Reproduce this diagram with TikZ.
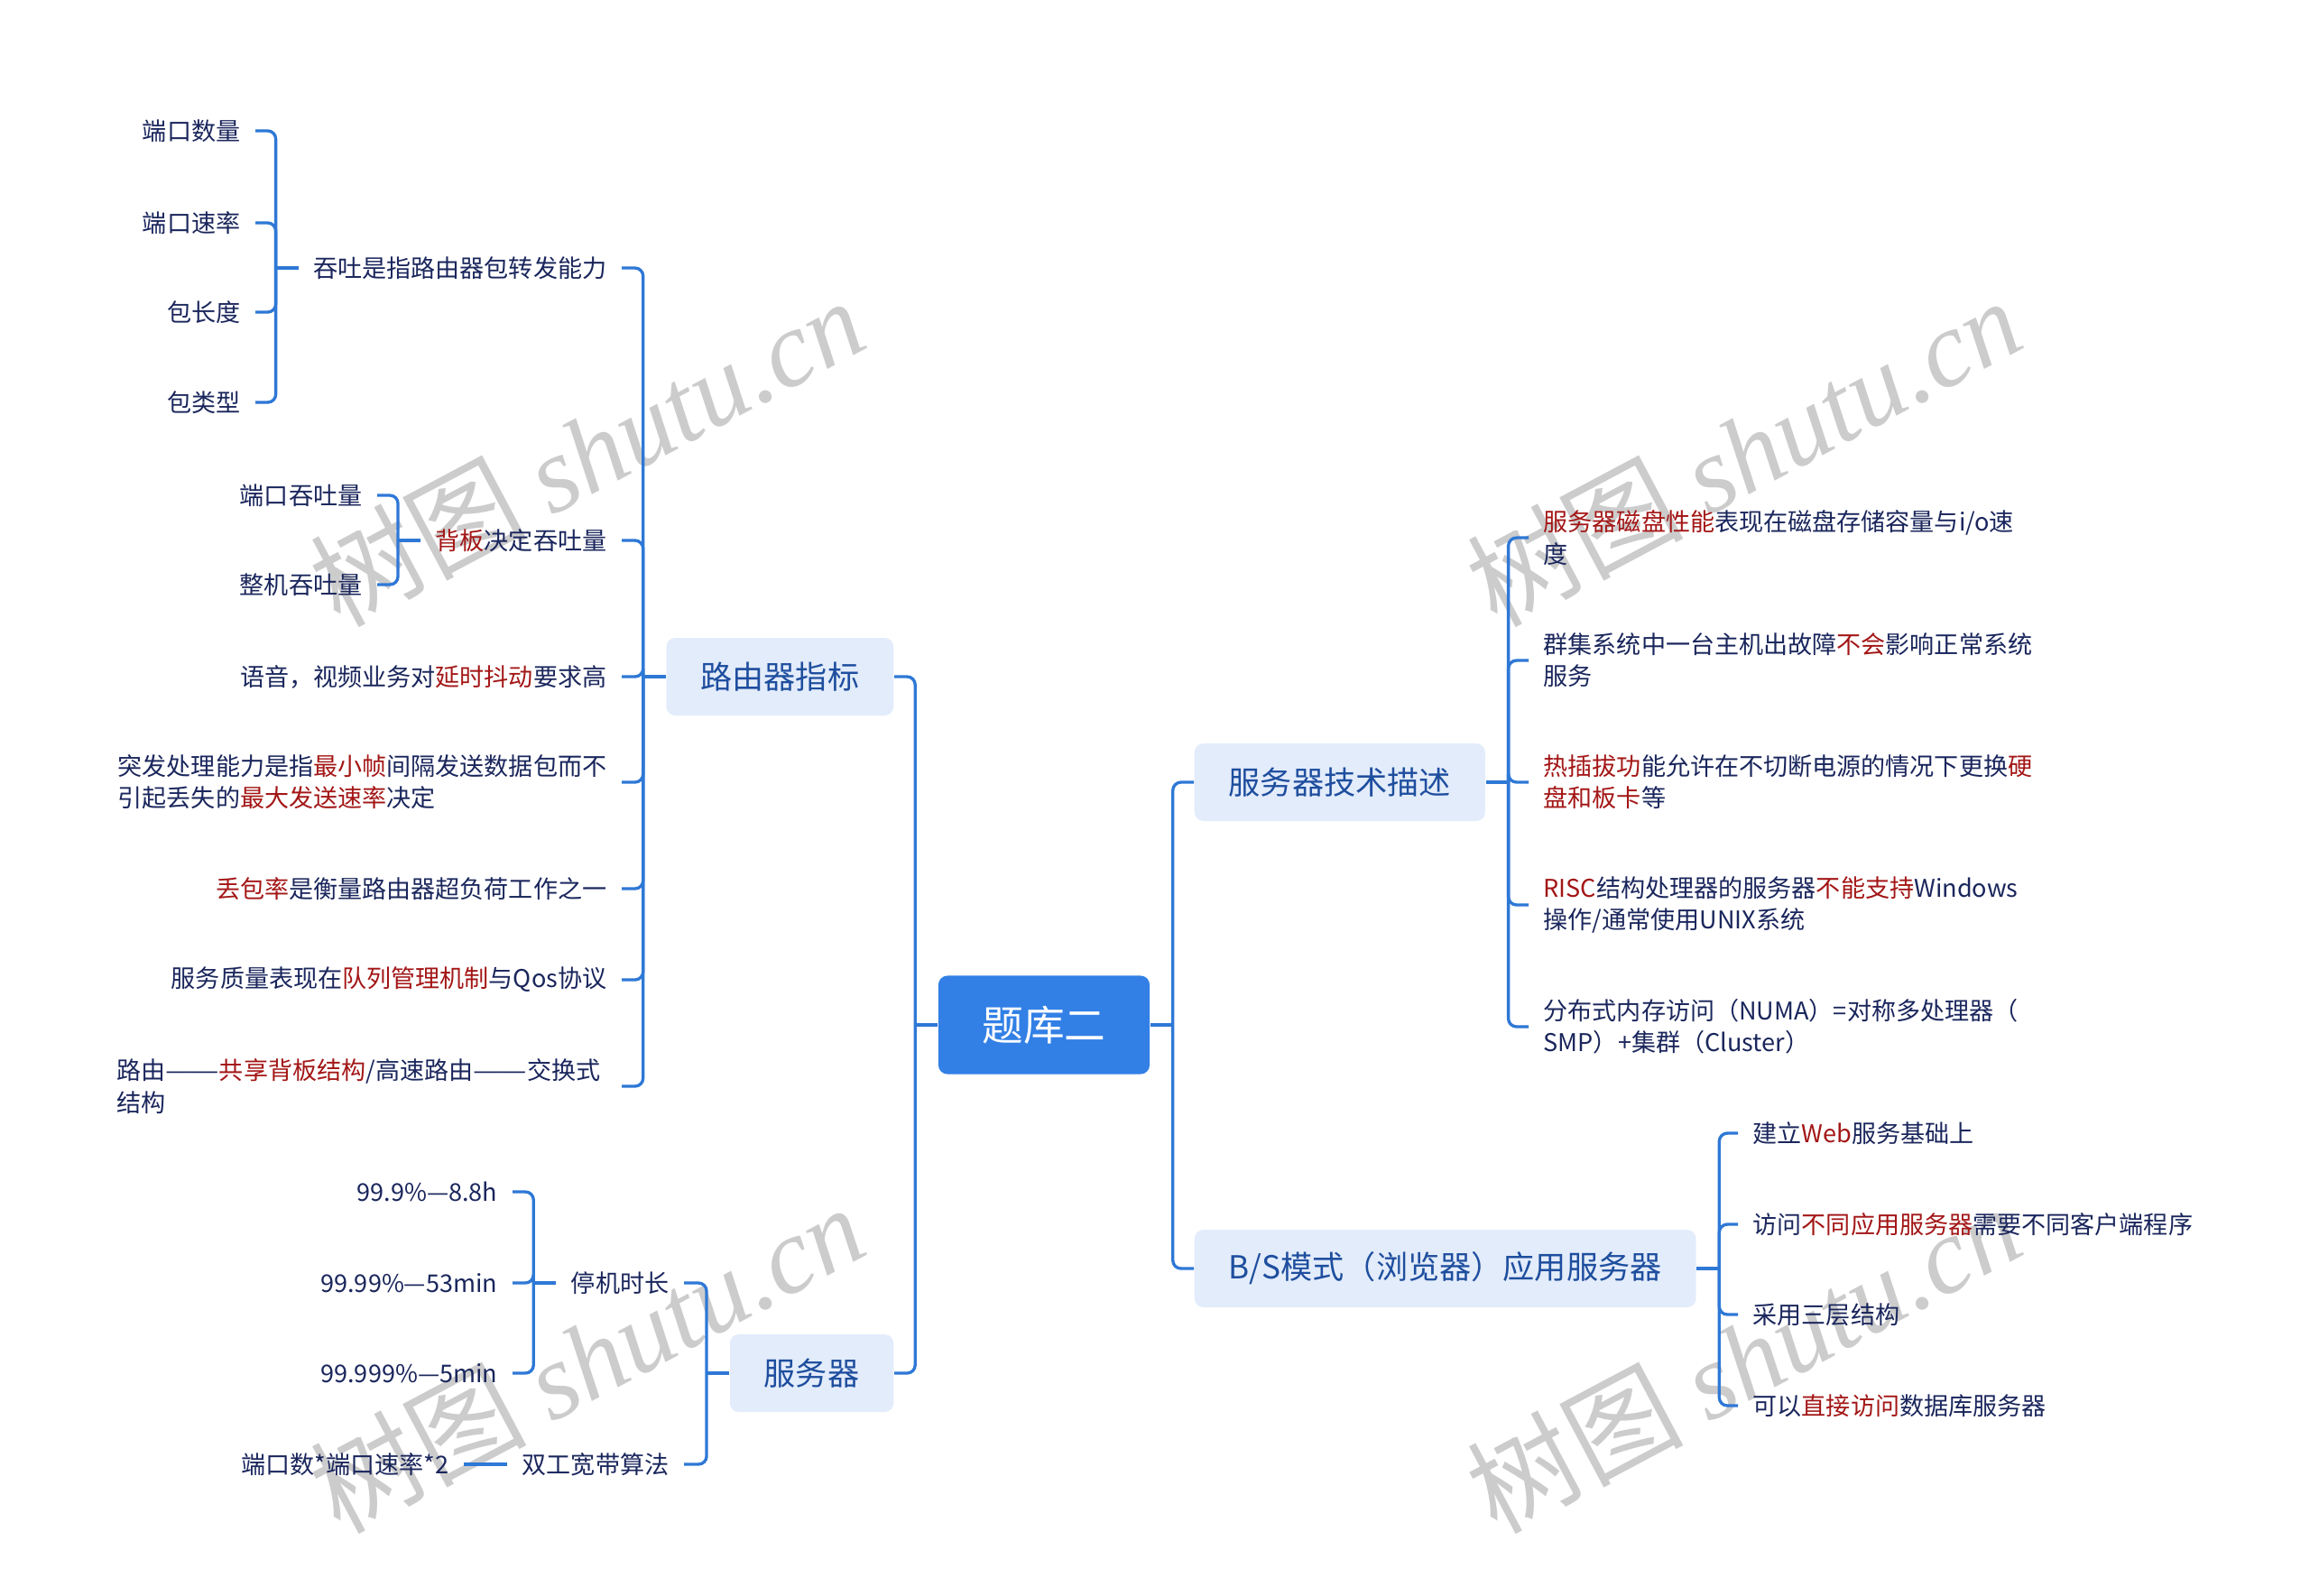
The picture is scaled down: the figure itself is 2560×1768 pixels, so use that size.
\documentclass[tikz,border=0pt]{standalone}
\usepackage{graphicx}
\usepackage{fontspec}
\setmainfont{Noto Sans CJK SC}
\newfontfamily\wmlatin{Liberation Serif}
\definecolor{linkblue}{RGB}{46,120,214}
\definecolor{rootblue}{RGB}{50,128,230}
\definecolor{boxfill}{RGB}{227,236,251}
\definecolor{boxtext}{RGB}{30,78,158}
\definecolor{leaftext}{RGB}{26,38,92}
\definecolor{hlred}{RGB}{163,22,22}
\newcommand{\redtxt}[1]{\textcolor{hlred}{#1}}
\newcommand{\widedash}{\scalebox{1.3}[1]{—}\kern-0.12em\scalebox{1.3}[1]{—}}
\tikzset{
  root/.style={fill=rootblue, text=white, rounded corners=0.1cm, minimum width=2.34cm, minimum height=1.09cm, font=\fontsize{13}{15}\selectfont},
  branch/.style={fill=boxfill, text=boxtext, rounded corners=0.1cm, inner xsep=0.38cm, minimum height=0.86cm, font=\fontsize{10}{12}\selectfont},
  leaf/.style={text=leaftext, inner xsep=0.16cm, inner ysep=0pt, align=left, font=\fontsize{7.7}{10}\selectfont},
  link/.style={draw=linkblue, line width=0.95pt, rounded corners=0.09cm},
  wm/.style={text=black!20, rotate=28, font=\fontsize{34}{34}\selectfont}
}
\begin{document}
\begin{tikzpicture}[x=0.01cm, y=-0.01cm]
    \useasboundingbox (0,0) rectangle (2560,1768);
    % watermarks
    \node[wm] (wm1) at (650,500) {树图 {\wmlatin\itshape shutu.cn}};
    \node[wm] (wm2) at (650,1505) {树图 {\wmlatin\itshape shutu.cn}};
    \node[wm] (wm3) at (1932,500) {树图 {\wmlatin\itshape shutu.cn}};
    \node[wm] (wm4) at (1932,1505) {树图 {\wmlatin\itshape shutu.cn}};

    \node[root] (root) at (1157,1136) {题库二};

    \node[branch, anchor=east] (rt) at (991,750) {路由器指标};
    \node[branch, anchor=east] (sv) at (991,1522) {服务器};
    \node[branch, anchor=west] (st) at (1323,867) {服务器技术描述};
    \node[branch, anchor=west] (bs) at (1323,1406) {B/S模式（浏览器）应用服务器};

    % router
    \node[leaf, anchor=east] (rt1) at (689,297) {吞吐是指路由器包转发能力};
    \node[leaf, anchor=east] (rt2) at (689,599) {\redtxt{背板}决定吞吐量};
    \node[leaf, anchor=east] (rt3) at (689,750) {语音，视频业务对\redtxt{延时抖动}要求高};
    \node[leaf, anchor=east] (rt4) at (689,867) {突发处理能力是指\redtxt{最小帧}间隔发送数据包而不\\引起丢失的\redtxt{最大发送速率}决定};
    \node[leaf, anchor=east] (rt5) at (689,985) {\redtxt{丢包率}是衡量路由器超负荷工作之一};
    \node[leaf, anchor=east] (rt6) at (689,1086) {服务质量表现在\redtxt{队列管理机制}与Qos协议};
    \node[leaf, anchor=east] (rt7) at (682,1204) {路由\widedash\redtxt{共享背板结构}/高速路由\widedash 交换式\\结构};

    \node[leaf, anchor=east] (rt1a) at (283,145) {端口数量};
    \node[leaf, anchor=east] (rt1b) at (283,247) {端口速率};
    \node[leaf, anchor=east] (rt1c) at (283,346) {包长度};
    \node[leaf, anchor=east] (rt1d) at (283,446) {包类型};

    \node[leaf, anchor=east] (rt2a) at (418,549) {端口吞吐量};
    \node[leaf, anchor=east] (rt2b) at (418,648) {整机吞吐量};

    % server
    \node[leaf, anchor=east] (sv1) at (758,1422) {停机时长};
    \node[leaf, anchor=east] (sv2) at (758,1623) {双工宽带算法};
    \node[leaf, anchor=east] (sv1a) at (568,1321) {99.9\%—8.8h};
    \node[leaf, anchor=east] (sv1b) at (568,1422) {99.99\%—53min};
    \node[leaf, anchor=east] (sv1c) at (568,1522) {99.999\%—5min};
    \node[leaf, anchor=east] (sv2a) at (514,1623) {端口数*端口速率*2};

    % server tech
    \node[leaf, anchor=west] (st1) at (1694,596) {\redtxt{服务器磁盘性能}表现在磁盘存储容量与i/o速\\度};
    \node[leaf, anchor=west] (st2) at (1694,732) {群集系统中一台主机出故障\redtxt{不会}影响正常系统\\服务};
    \node[leaf, anchor=west] (st3) at (1694,867) {\redtxt{热插拔功}能允许在不切断电源的情况下更换\redtxt{硬}\\\redtxt{盘和板卡}等};
    \node[leaf, anchor=west] (st4) at (1694,1003) {\redtxt{RISC}结构处理器的服务器\redtxt{不能支持}Windows\\操作/通常使用UNIX系统};
    \node[leaf, anchor=west] (st5) at (1694,1138) {分布式内存访问（NUMA）=对称多处理器（\\SMP）+集群（Cluster）};

    % B/S
    \node[leaf, anchor=west] (bs1) at (1926,1256) {建立\redtxt{Web}服务基础上};
    \node[leaf, anchor=west] (bs2) at (1926,1357) {访问\redtxt{不同应用服务器}需要不同客户端程序};
    \node[leaf, anchor=west] (bs3) at (1926,1457) {采用三层结构};
    \node[leaf, anchor=west] (bs4) at (1926,1558) {可以\redtxt{直接访问}数据库服务器};

    % connectors
    \draw[link] (root.west) -- ++(-25,0) coordinate (rootl);
    \draw[link] (rootl) |- (rt.east);
    \draw[link] (rootl) |- (sv.east);
    \draw[link] (root.east) -- ++(25,0) coordinate (rootr);
    \draw[link] (rootr) |- (st.west);
    \draw[link] (rootr) |- (bs.west);

    \draw[link] (rt.west) -- ++(-25,0) coordinate (rtj);
    \draw[link] (rtj) |- (rt1.east);
    \draw[link] (rtj) |- (rt2.east);
    \draw[link] (rtj) |- (rt3.east);
    \draw[link] (rtj) |- (rt4.east);
    \draw[link] (rtj) |- (rt5.east);
    \draw[link] (rtj) |- (rt6.east);
    \draw[link] (rtj) |- ([xshift=0.07cm]rt7.east);

    \draw[link] (rt1.west) -- ++(-25,0) coordinate (rt1j);
    \draw[link] (rt1j) |- (rt1a.east);
    \draw[link] (rt1j) |- (rt1b.east);
    \draw[link] (rt1j) |- (rt1c.east);
    \draw[link] (rt1j) |- (rt1d.east);

    \draw[link] (rt2.west) -- ++(-25,0) coordinate (rt2j);
    \draw[link] (rt2j) |- (rt2a.east);
    \draw[link] (rt2j) |- (rt2b.east);

    \draw[link] (sv.west) -- ++(-25,0) coordinate (svj);
    \draw[link] (svj) |- (sv1.east);
    \draw[link] (svj) |- (sv2.east);

    \draw[link] (sv1.west) -- ++(-25,0) coordinate (sv1j);
    \draw[link] (sv1j) |- (sv1a.east);
    \draw[link] (sv1j) |- (sv1b.east);
    \draw[link] (sv1j) |- (sv1c.east);
    \draw[link] (sv2.west) -- (sv2a.east);

    \draw[link] (st.east) -- ++(25,0) coordinate (stj);
    \draw[link] (stj) |- (st1.west);
    \draw[link] (stj) |- (st2.west);
    \draw[link] (stj) |- (st3.west);
    \draw[link] (stj) |- (st4.west);
    \draw[link] (stj) |- (st5.west);

    \draw[link] (bs.east) -- ++(25,0) coordinate (bsj);
    \draw[link] (bsj) |- (bs1.west);
    \draw[link] (bsj) |- (bs2.west);
    \draw[link] (bsj) |- (bs3.west);
    \draw[link] (bsj) |- (bs4.west);
\end{tikzpicture}
\end{document}
